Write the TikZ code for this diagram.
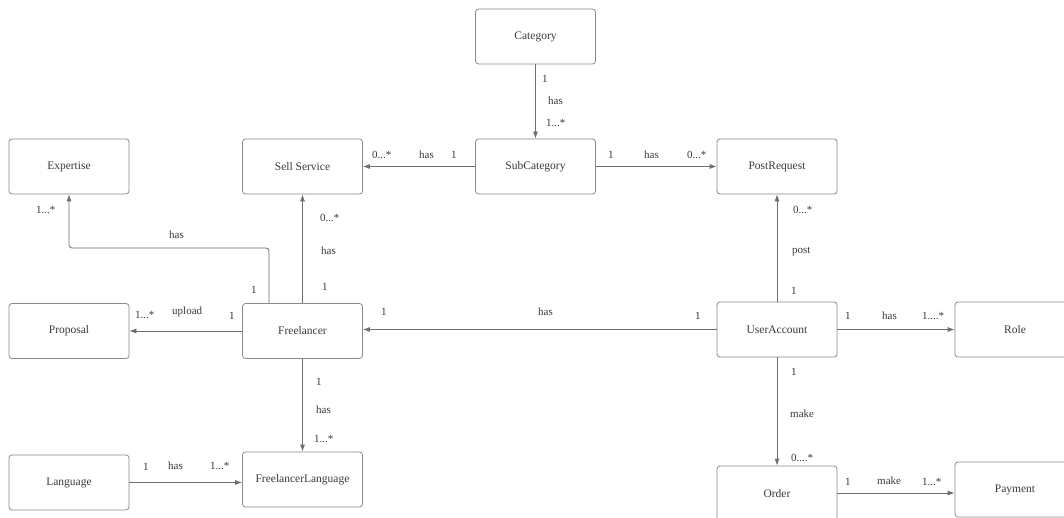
\documentclass[tikz,border=0pt]{standalone}
\usepackage{fontspec}
\setmainfont{Liberation Serif}
\usetikzlibrary{arrows.meta}
\definecolor{linegray}{HTML}{6E6E6E}
\definecolor{boxgray}{HTML}{8A8A8A}
\definecolor{textgray}{HTML}{3A3A3A}
\tikzset{
  entity/.style={draw=boxgray, line width=0.8pt, rounded corners=3pt, fill=white,
    minimum width=120pt, minimum height=55pt, inner sep=0pt,
    font=\fontsize{11.5}{13}\selectfont, text=textgray},
  assoc/.style={draw=linegray, line width=0.8pt, -{Latex[length=7pt,width=5pt]}},
  lbl/.style={anchor=west, inner sep=0pt, font=\fontsize{11}{13}\selectfont, text=textgray},
}
\begin{document}
\begin{tikzpicture}[x=1pt, y=-1pt]
\useasboundingbox (0,0) rectangle (1064,518);
\clip (0,0) rectangle (1064,518);
\fill[white] (0,0) rectangle (1064,518);

% entities
\node[entity] (cat)   at (535.5,36.5)  {Category};
\node[entity] (exp)   at (69,166.5)    {Expertise};
\node[entity] (sell)  at (302.5,166.5) {Sell Service};
\node[entity] (sub)   at (535.5,166.5) {SubCategory};
\node[entity] (post)  at (777,166.5)   {PostRequest};
\node[entity] (prop)  at (69,331)      {Proposal};
\node[entity] (free)  at (302.5,331)   {Freelancer};
\node[entity] (ua)    at (777,329.5)   {UserAccount};
\node[entity] (role)  at (1015,329.5)  {Role};
\node[entity] (lang)  at (69,482.5)    {Language};
\node[entity] (fl)    at (302.5,479.5) {FreelancerLanguage};
\node[entity, minimum height=56pt] (order) at (777,494) {Order};
\node[entity] (pay)   at (1015,489.5)  {Payment};

% associations
\draw[assoc] (cat.south) -- (sub.north);
\draw[assoc] (sub.west) -- (sell.east);
\draw[assoc] (sub.east) -- (post.west);
\draw[assoc] (ua.north) -- (post.south);
\draw[assoc] (free.north) -- (sell.south);
\coordinate (ek) at (269,248);
\draw[assoc, rounded corners=3pt] (free.north -| ek) -- (ek) -| (exp.south);
\draw[assoc] (free.west) -- (prop.west -| prop.east);
\draw[assoc] (ua.west) -- (ua.west -| free.east);
\draw[assoc] (ua.east) -- (role.west);
\draw[assoc] (free.south) -- (fl.north);
\draw[assoc] (lang.east) -- (lang.east -| fl.west);
\draw[assoc] (ua.south) -- (order.north);
\draw[assoc] (order.east |- 0,493) -- (pay.west |- 0,493);

% multiplicities and roles
\node[lbl] (l1) at (542,79)  {1};
\node[lbl] (l2) at (548,101) {has};
\node[lbl] (l3) at (546,123) {1...*};

\node[lbl] (l4) at (372,155) {0...*};
\node[lbl] (l5) at (419,155) {has};
\node[lbl] (l6) at (451,155) {1};

\node[lbl] (l7) at (608,155) {1};
\node[lbl] (l8) at (644,155) {has};
\node[lbl] (l9) at (687,155) {0...*};

\node[lbl] (l10) at (793,210) {0...*};
\node[lbl] (l11) at (792,252) {post};
\node[lbl] (l12) at (791,291) {1};

\node[lbl] (l13) at (320,218) {0...*};
\node[lbl] (l14) at (321,251) {has};
\node[lbl] (l15) at (322,287) {1};

\node[lbl] (l16) at (36,210)  {1...*};
\node[lbl] (l17) at (169,235) {has};
\node[lbl] (l18) at (251,290) {1};

\node[lbl] (l19) at (135,315) {1...*};
\node[lbl] (l20) at (172,312) {upload};
\node[lbl] (l21) at (229,316) {1};

\node[lbl] (l22) at (381,312) {1};
\node[lbl] (l23) at (538,312) {has};
\node[lbl] (l24) at (695,316) {1};

\node[lbl] (l25) at (845,316) {1};
\node[lbl] (l26) at (882,316) {has};
\node[lbl] (l27) at (922,316) {1....*};

\node[lbl] (l28) at (316,382) {1};
\node[lbl] (l29) at (316,410) {has};
\node[lbl] (l30) at (314,439) {1...*};

\node[lbl] (l31) at (143,467) {1};
\node[lbl] (l32) at (168,466) {has};
\node[lbl] (l33) at (210,466) {1...*};

\node[lbl] (l34) at (791,372) {1};
\node[lbl] (l35) at (790,414) {make};
\node[lbl] (l36) at (791,458) {0....*};

\node[lbl] (l37) at (845,482) {1};
\node[lbl] (l38) at (877,481) {make};
\node[lbl] (l39) at (922,482) {1...*};
\end{tikzpicture}
\end{document}
